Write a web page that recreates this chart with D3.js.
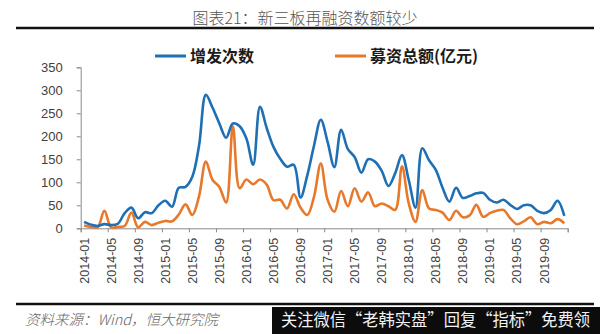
<!DOCTYPE html>
<html><head><meta charset="utf-8">
<script src="https://cdn.jsdelivr.net/npm/d3@7"></script>
<style>
html,body{margin:0;padding:0;background:#fff;}
svg{display:block;}
</style></head>
<body>
<svg id="c" width="600" height="334"></svg>
<script>
// ---- data ----
const title = "图表21：新三板再融资数额较少";
const seriesNames = ["增发次数", "募资总额(亿元)"];
const years = ["2014","2015","2016","2017","2018","2019"];
const months = [];
years.forEach(y => { for (let m = 1; m <= 12; m++) months.push(y + "-" + String(m).padStart(2, "0")); });
const issueCount = [
  14, 8, 5, 9, 7, 10, 33, 45, 22, 35, 33, 50,
  60, 47, 88, 90, 112, 180, 290, 262, 228, 197, 228, 222,
  195, 138, 264, 218, 177, 151, 134, 138, 67, 115, 180, 236,
  188, 133, 214, 172, 155, 121, 150, 145, 125, 92, 120, 159,
  105, 45, 174, 148, 127, 88, 58, 88, 66, 70, 76, 77,
  62, 56, 62, 51, 42, 50, 50, 38, 33, 40, 60, 27
];
const raisedAmount = [
  6, 3, 2, 38, 2, 3, 5, 34, 2, 14, 7, 12,
  16, 15, 30, 52, 29, 70, 145, 105, 90, 56, 222, 87,
  106, 96, 106, 95, 61, 62, 43, 74, 45, 29, 69, 141,
  62, 36, 81, 48, 87, 58, 78, 48, 54, 48, 40, 135,
  54, 14, 83, 43, 40, 34, 18, 38, 24, 28, 51, 25,
  33, 38, 40, 22, 9, 15, 24, 9, 14, 11, 20, 11
];
const yTicks = [0, 50, 100, 150, 200, 250, 300, 350];
const xLabelMonths = months.filter((m, i) => i % 4 === 0);
const footerText = "资料来源：Wind，恒大研究院";
const bannerText = "关注微信“老韩实盘”回复“指标”免费领";

// ---- drawing ----
const svg = d3.select("#c");
const blue = "#1f6fb4", orange = "#e8782a";
const axisColor = "#8a8a8a";
const x0 = 80.7, x1 = 567.7, yBot = 228.3, yTop = 67.3;

const x = d3.scaleBand().domain(months).range([x0, x1]).padding(0);
const xIdx = d3.scaleLinear().domain([0, months.length]).range([x0, x1]);
const y = d3.scaleLinear().domain([0, 350]).range([yBot, yTop]);

// title
svg.append("text").attr("x", 305).attr("y", 24).attr("text-anchor", "middle")
  .attr("font-family", "'Noto Sans CJK SC', sans-serif").attr("font-size", 16)
  .attr("font-weight", 300).attr("fill", "#555").text(title);
svg.append("line").attr("x1", 16).attr("x2", 594).attr("y1", 28).attr("y2", 28)
  .attr("stroke", "#111").attr("stroke-width", 2.5);

// legend
const legend = [
  {name: seriesNames[0], color: blue, lx: 155},
  {name: seriesNames[1], color: orange, lx: 335}
];
legend.forEach(d => {
  svg.append("line").attr("x1", d.lx).attr("x2", d.lx + 31).attr("y1", 56).attr("y2", 56)
    .attr("stroke", d.color).attr("stroke-width", 3);
  svg.append("text").attr("x", d.lx + 35).attr("y", 62)
    .attr("font-family", "'Noto Sans CJK SC', sans-serif").attr("font-size", 16)
    .attr("font-weight", 700).attr("fill", "#1a1a1a").text(d.name);
});

// y axis
const yAxis = svg.append("g").attr("transform", `translate(${x0},0)`)
  .call(d3.axisLeft(y).tickValues(yTicks).tickSize(4).tickPadding(14));
yAxis.selectAll("path,line").attr("stroke", axisColor);
yAxis.selectAll("text").attr("font-family", "'Liberation Sans', Arial, sans-serif")
  .attr("font-size", 13).attr("fill", "#404040");

// x axis: tick marks at category boundaries every 4 months
const xTickAxis = svg.append("g").attr("transform", `translate(0,${yBot})`)
  .call(d3.axisBottom(xIdx).tickValues(d3.range(0, months.length + 1, 4)).tickSize(4).tickFormat(""));
xTickAxis.selectAll("path,line").attr("stroke", axisColor);

// x labels at category centres
const xLab = svg.append("g").attr("transform", `translate(0,${yBot})`)
  .call(d3.axisBottom(x).tickValues(xLabelMonths).tickSize(0));
xLab.select(".domain").remove();
xLab.selectAll("text")
  .attr("transform", "rotate(-90)").attr("x", -9.5).attr("y", 0).attr("dy", "0.36em")
  .style("text-anchor", "end")
  .attr("font-family", "'Liberation Sans', Arial, sans-serif")
  .attr("font-size", 12.5).attr("fill", "#404040");

// lines
const line = d3.line()
  .x((d, i) => x(months[i]) + x.bandwidth() / 2)
  .y(d => y(d))
  .curve(d3.curveCatmullRom.alpha(0.5));
svg.append("path").datum(raisedAmount).attr("d", line).attr("fill", "none")
  .attr("stroke", orange).attr("stroke-width", 2.6).attr("stroke-linejoin", "round");
svg.append("path").datum(issueCount).attr("d", line).attr("fill", "none")
  .attr("stroke", blue).attr("stroke-width", 2.6).attr("stroke-linejoin", "round");

// footer
svg.append("line").attr("x1", 16).attr("x2", 594).attr("y1", 304).attr("y2", 304)
  .attr("stroke", "#111").attr("stroke-width", 2.5);
svg.append("text").attr("x", 25).attr("y", 325)
  .attr("font-family", "'Noto Sans CJK SC', sans-serif").attr("font-size", 14.5)
  .attr("font-style", "italic").attr("font-weight", 300).attr("fill", "#666").text(footerText);
svg.append("rect").attr("x", 272).attr("y", 307).attr("width", 328).attr("height", 27).attr("fill", "#0c0c0c");
svg.append("text").attr("x", 281).attr("y", 326)
  .attr("font-family", "'Noto Sans CJK SC', sans-serif").attr("font-size", 16.5)
  .attr("textLength", 309).attr("lengthAdjust", "spacingAndGlyphs")
  .attr("fill", "#f2f2f2").text(bannerText);
</script>
</body></html>
